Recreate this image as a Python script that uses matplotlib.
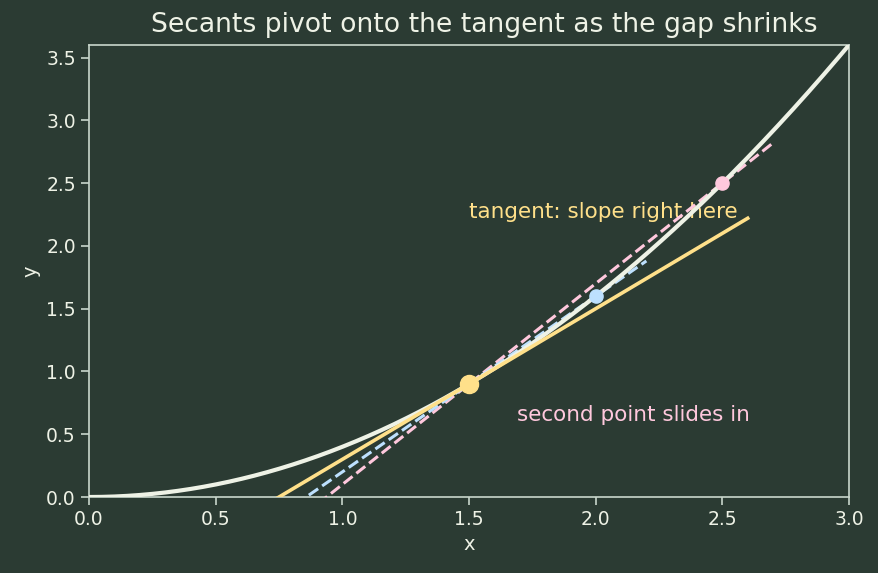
import numpy as np
import matplotlib
matplotlib.use("Agg")
import matplotlib.pyplot as plt

# curve y = a * x^2 (passes 1.5->0.9, 2->1.6, 2.5->2.5, 3->3.6)
coef = 0.4
x_range = [0.0, 3.0]
x0 = 1.5                      # tangent point
x_second = [2.5, 2.0]         # second points of the secants
secant_end = [2.7, 2.2]       # where each dashed secant stops
tangent_end = 2.6
secant_colors = ["#ffc8dd", "#bde0fe"]

bg = "#2b3b33"
fg = "#eef2e6"
edge = "#c9d6cc"
yellow = "#ffe08a"

f = lambda x: coef * x ** 2

fig = plt.figure(figsize=(8.79, 5.73), dpi=100, facecolor=bg)
ax = fig.add_axes([0.1013, 0.1326, 0.8646, 0.7889])
ax.set_facecolor(bg)

xs = np.linspace(x_range[0], x_range[1], 300)
ax.plot(xs, f(xs), color=fg, lw=3, zorder=4, solid_capstyle="round")

y0 = f(x0)
for x2, xe, c in zip(x_second, secant_end, secant_colors):
    m = (f(x2) - y0) / (x2 - x0)
    xx = np.array([0.5, xe])
    ax.plot(xx, y0 + m * (xx - x0), color=c, lw=2.2, ls="--", zorder=3)
    ax.plot([x2], [f(x2)], "o", color=c, ms=9.5, zorder=6)

slope = 2 * coef * x0
xt = np.array([0.5, tangent_end])
ax.plot(xt, y0 + slope * (xt - x0), color=yellow, lw=2.6, zorder=5)
ax.plot([x0], [y0], "o", color=yellow, ms=13, zorder=7)

ax.text(1.5, 2.27, "tangent: slope right here", color=yellow, fontsize=15.5,
        va="center", ha="left", zorder=1)
ax.text(1.69, 0.65, "second point slides in", color=secant_colors[0], fontsize=15.5,
        va="center", ha="left", zorder=1)

ax.set_xlim(0, 3)
ax.set_ylim(0, 3.6)
ax.set_xticks(np.arange(0, 3.01, 0.5))
ax.set_yticks(np.arange(0, 3.51, 0.5))
ax.set_title("Secants pivot onto the tangent as the gap shrinks", color=fg, fontsize=19.2,
             pad=9, x=0.52)
ax.set_xlabel("x", color=fg, fontsize=14)
ax.set_ylabel("y", color=fg, fontsize=14)
ax.tick_params(colors=edge, labelcolor=fg, labelsize=13.5, length=6, width=1.2)
for s in ax.spines.values():
    s.set_color(edge)
    s.set_linewidth(1.2)

fig.savefig("out.png", facecolor=bg)
